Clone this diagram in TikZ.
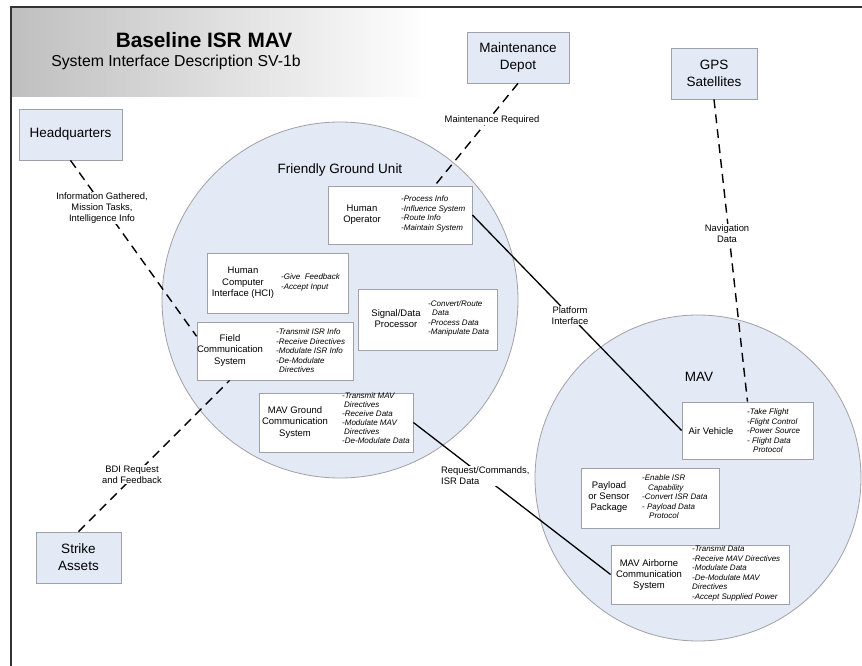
\documentclass[tikz,border=0pt]{standalone}
\usepackage{fontspec}
\setmainfont{Liberation Sans}
\usetikzlibrary{calc}
\definecolor{bluefill}{HTML}{E3E9F5}
\definecolor{edgegray}{HTML}{A0A0A8}
\begin{document}
\begin{tikzpicture}[x=1pt,y=-1pt,
 extbox/.style={draw=edgegray, fill=bluefill, line width=0.8pt, align=center, font=\fontsize{13.5}{17}\selectfont, inner sep=0pt},
 inbox/.style={draw=edgegray, fill=white, line width=0.8pt, inner sep=0pt},
 nametext/.style={align=center, inner sep=0pt, font=\fontsize{9.5}{11.3}\selectfont},
 listtext/.style={align=left, inner sep=0pt, anchor=west, font=\fontsize{8}{9.5}\selectfont\itshape},
 lbltext/.style={align=center, inner sep=1pt, fill=white, font=\fontsize{9.4}{11}\selectfont},
 dashlink/.style={line width=1.4pt, dash pattern=on 9pt off 6pt},
 solidlink/.style={line width=1.3pt},
 zone/.style={circle, draw=edgegray, fill=bluefill, line width=0.8pt, inner sep=0pt},
 zonetitle/.style={inner sep=0pt, font=\fontsize{13.5}{16}\selectfont}
]
\useasboundingbox (0,0) rectangle (862,666);
% frame and title band
\fill[left color=black!25, right color=white] (12,8) rectangle (430,97);
\draw[line width=2pt, black!80] (11,666) -- (11,7) -- (862,7);
\node[inner sep=0pt, font=\fontsize{20.8}{24}\selectfont\bfseries] (title) at (204,40) {Baseline ISR MAV};
\node[inner sep=0pt, font=\fontsize{15.8}{19}\selectfont] (subtitle) at (176,62) {System Interface Description SV-1b};

% zones
\node[zone, minimum size=356pt] (fgu) at (340,300) {};
\node[zone, minimum size=326pt] (mav) at (698,478) {};
\node[zonetitle] (fgut) at (340,170) {Friendly Ground Unit};
\node[zonetitle] (mavt) at (699,377) {MAV};

% external boxes
\node[extbox, minimum width=103pt, minimum height=51pt] (hq) at (70.5,134.5) {Headquarters};
\node[extbox, minimum width=102pt, minimum height=51pt] (depot) at (518,57.5) {Maintenance\\Depot};
\node[extbox, minimum width=86pt, minimum height=51pt] (gps) at (714,73.5) {GPS\\Satellites};
\node[extbox, minimum width=85pt, minimum height=51pt] (strike) at (78.5,557.5) {Strike\\Assets};

% internal boxes
\node[inbox, minimum width=144pt, minimum height=58pt] (ho) at (400,215) {};
\node[nametext] (hoN) at (362,214.5) {Human\\Operator};
\node[listtext] (hoL) at (401,214) {-Process Info\\-Influence System\\-Route Info\\-Maintain System};

\node[inbox, minimum width=141pt, minimum height=60pt] (hci) at (277.5,283) {};
\node[nametext] (hciN) at (243,283) {Human\\Computer\\Interface (HCI)};
\node[listtext] (hciL) at (281,282.5) {-Give\ \ Feedback\\-Accept Input};

\node[inbox, minimum width=156pt, minimum height=58pt] (field) at (275,351) {};
\node[nametext] (fieldN) at (230,350.5) {Field\\Communication\\System};
\node[listtext] (fieldL) at (276,351) {-Transmit ISR Info\\-Receive Directives\\-Modulate ISR Info\\-De-Modulate\\\hspace*{3pt}Directives};

\node[inbox, minimum width=139pt, minimum height=61pt] (sdp) at (427.5,319.5) {};
\node[nametext] (sdpN) at (396,318.5) {Signal/Data\\Processor};
\node[listtext] (sdpL) at (428,318.5) {-Convert/Route\\\hspace*{4pt}Data\\-Process Data\\-Manipulate Data};

\node[inbox, minimum width=154pt, minimum height=59pt] (mgc) at (336,422.5) {};
\node[nametext] (mgcN) at (295,422.5) {MAV Ground\\Communication\\System};
\node[listtext, font=\fontsize{8}{8.9}\selectfont\itshape] (mgcL) at (342,418) {-Transmit MAV\\\hspace*{2pt}Directives\\-Receive Data\\-Modulate MAV\\\hspace*{2pt}Directives\\-De-Modulate Data};

\node[inbox, minimum width=131pt, minimum height=57pt] (av) at (747.5,430.5) {};
\node[nametext] (avN) at (711,431) {Air Vehicle};
\node[listtext] (avL) at (747,431) {-Take Flight\\-Flight Control\\-Power Source\\- Flight Data\\\hspace*{6pt}Protocol};

\node[inbox, minimum width=138pt, minimum height=60pt] (psp) at (650,498) {};
\node[nametext] (pspN) at (609,497) {Payload\\or Sensor\\Package};
\node[listtext] (pspL) at (642,497) {-Enable ISR\\\hspace*{6pt}Capability\\-Convert ISR Data\\- Payload Data\\\hspace*{7pt}Protocol};

\node[inbox, minimum width=178pt, minimum height=59pt] (mac) at (700,574.5) {};
\node[nametext] (macN) at (649,575) {MAV Airborne\\Communication\\System};
\node[listtext] (macL) at (692,573.5) {-Transmit Data\\-Receive MAV Directives\\-Modulate Data\\-De-Modulate MAV\\Directives\\-Accept Supplied Power};

% connectors
\draw[dashlink] (hq.south) -- ($(field.north west)!0.25!(field.south west)$);
\draw[dashlink] (depot.south) -- ($(ho.north west)!0.74!(ho.north east)$);
\draw[dashlink] (gps.south) -- (av.north);
\draw[dashlink] (strike.north) -- ($(field.south west)+(33,0)$);
\draw[solidlink] (ho.east) -- (av.west);
\draw[solidlink] (mgc.east) -- (mac.west);

% connector labels
\node[lbltext] (lblmr) at (492,120) {Maintenance Required};
\node[lbltext] (lblinfo) at (102,208) {Information Gathered,\\Mission Tasks,\\Intelligence Info};
\node[lbltext] (lblnav) at (727,233.5) {Navigation\\Data};
\node[lbltext] (lblpi) at (570,315.5) {Platform\\Interface};
\node[lbltext, align=left, anchor=west] (lblrc) at (440,476) {Request/Commands,\\ISR Data};
\node[lbltext] (lblbdi) at (132,474.5) {BDI Request\\and Feedback};
\end{tikzpicture}
\end{document}
